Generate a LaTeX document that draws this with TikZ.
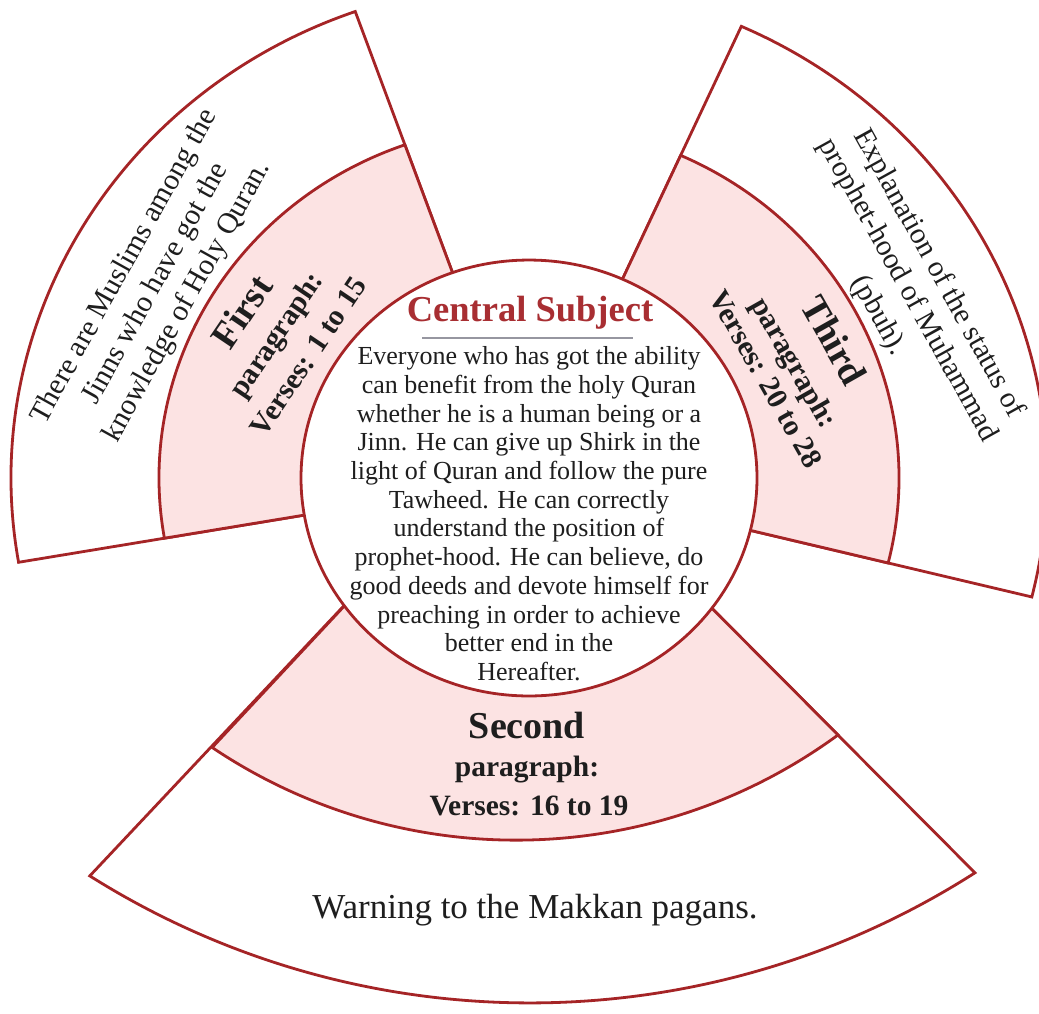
\documentclass[tikz,border=0pt]{standalone}
\usepackage{fontspec}
\setmainfont{Liberation Serif}
\definecolor{edge}{RGB}{165,36,38}
\definecolor{pinkfill}{RGB}{252,227,227}
\definecolor{titlered}{RGB}{168,46,50}
\definecolor{rulegray}{RGB}{150,150,160}
\definecolor{ink}{RGB}{30,30,30}
\begin{document}
\begin{tikzpicture}[x=1pt,y=-1pt,
  border/.style={draw=edge, line width=2.8pt, line join=miter},
  whitepart/.style={border, fill=white},
  pinkpart/.style={border, fill=pinkfill},
  bodytext/.style={font=\fontsize{26}{28.7}\selectfont, text=ink, align=center, inner sep=0pt},
  bigword/.style={font=\fontsize{38}{40}\selectfont\bfseries, text=ink, inner sep=0pt, anchor=base},
  parword/.style={font=\fontsize{29.5}{32}\selectfont\bfseries, text=ink, inner sep=0pt, anchor=base},
  outerline/.style={font=\fontsize{29.5}{32}\selectfont, text=ink, inner sep=0pt, anchor=base},
]
\useasboundingbox (0,0) rectangle (1039,1013);
\fill[white] (0,0) rectangle (1039,1013);

% ---------- second sector (bottom) ----------
\coordinate (s2inL) at (418,527);
\coordinate (s2inR) at (634,530);
\coordinate (s2outL) at (89.8,875.9);
\coordinate (s2pinkL) at (212.2,747.5);
\draw[whitepart] (s2inL) -- (s2outL) arc[start angle=122.2, end angle=57.4, radius=826] -- (s2inR) -- cycle;
\draw[pinkpart] (s2inL) -- (s2pinkL) arc[start angle=123.9, end angle=53.8, radius=545] -- (s2inR) -- cycle;

% ---------- first and third sectors, central circle ----------
\begin{scope}[shift={(529,478)}, yscale=0.956]
  \draw[whitepart] (170.2:215) -- (170.2:518) arc[start angle=170.2, end angle=250.4, radius=518] -- (250.4:215) -- cycle;
  \draw[pinkpart] (170.2:215) -- (170.2:370) arc[start angle=170.2, end angle=250.4, radius=370] -- (250.4:215) -- cycle;
  \draw[whitepart] (-65.8:215) -- (-65.8:518) arc[start angle=-65.8, end angle=13.9, radius=518] -- (13.9:215) -- cycle;
  \draw[pinkpart] (-65.8:215) -- (-65.8:370) arc[start angle=-65.8, end angle=13.9, radius=370] -- (13.9:215) -- cycle;
  \coordinate (ctr) at (0,0);
  \draw[whitepart] (ctr) circle[radius=228];
\end{scope}

% ---------- central text ----------
\node[font=\fontsize{36.5}{40}\selectfont\bfseries, text=titlered, inner sep=0pt, anchor=base] (ctitle) at (530,321.7) {Central Subject};
\coordinate (ruleL) at (422,338.3);
\coordinate (ruleR) at (633,338.3);
\draw[rulegray, line width=2pt] (ruleL) -- (ruleR);
\node[bodytext, anchor=north] (cbody) at (529,346.5) {Everyone who has got the ability\\
can benefit from the holy Quran\\
whether he is a human being or a\\
Jinn. He can give up Shirk in the\\
light of Quran and follow the pure\\
Tawheed. He can correctly\\
understand the position of\\
prophet-hood. He can believe, do\\
good deeds and devote himself for\\
preaching in order to achieve\\
better end in the\\
Hereafter.};

% ---------- first sector text ----------
\begin{scope}[shift={(162.3,287.7)}, rotate=61, transform shape]
  \node[outerline] (s1o1) at (0,-36) {There are Muslims among the};
  \node[outerline] (s1o2) at (0,0) {Jinns who have got the};
  \node[outerline] (s1o3) at (0,36) {knowledge of Holy Quran.};
\end{scope}
\begin{scope}[shift={(284,340)}, rotate=56, transform shape]
  \node[bigword] (s1a) at (0,-38) {First};
  \node[parword] (s1b) at (0,0) {paragraph:};
  \node[parword] (s1c) at (0,39) {Verses: 1 to 15};
\end{scope}

% ---------- third sector text ----------
\begin{scope}[shift={(786.4,367.4)}, rotate=-60.5, transform shape]
  \node[bigword] (s3a) at (0,-42) {Third};
  \node[parword] (s3b) at (0,0) {paragraph:};
  \node[parword] (s3c) at (0,33) {Verses: 20 to 28};
\end{scope}
\begin{scope}[shift={(901.4,293.9)}, rotate=-61, transform shape]
  \node[outerline] (s3o1) at (0,-35) {Explanation of the status of};
  \node[outerline] (s3o2) at (0,0) {prophet-hood of Muhammad};
  \node[outerline] (s3o3) at (8,38) {(pbuh).};
\end{scope}

% ---------- second sector text ----------
\node[bigword] (s2a) at (527,738) {Second};
\node[parword] (s2b) at (527,776) {paragraph:};
\node[parword] (s2c) at (529,815) {Verses: 16 to 19};
\node[outerline, font=\fontsize{35}{40}\selectfont] (s2o) at (535,918) {Warning to the Makkan pagans.};
\end{tikzpicture}
\end{document}
